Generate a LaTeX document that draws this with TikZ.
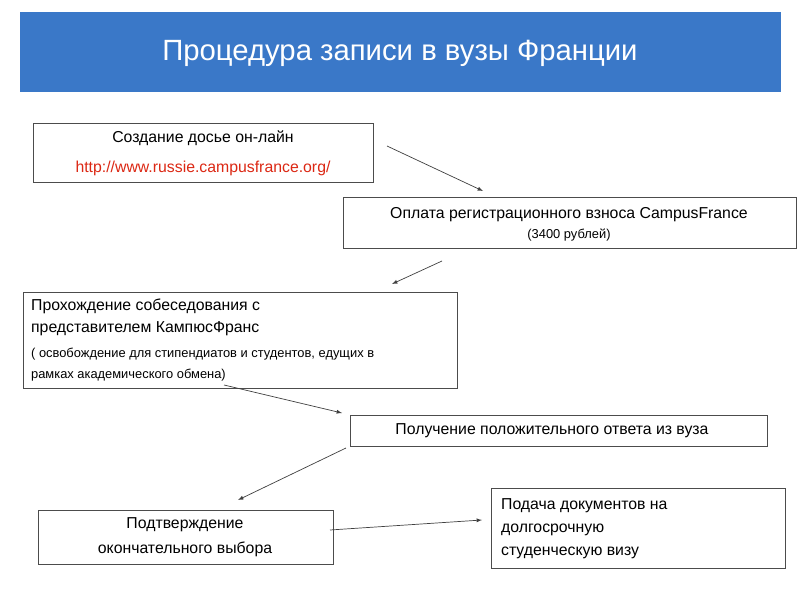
\documentclass[tikz,border=0pt]{standalone}
\usepackage{fontspec}
\setmainfont{Liberation Sans}
\begin{document}
\begin{tikzpicture}[x=0.03cm,y=-0.03cm,
  box/.style={draw=black!70,line width=0.6pt,fill=white},
  txt/.style={font=\fontsize{13.5pt}{16pt}\selectfont},
  small/.style={font=\fontsize{11pt}{13pt}\selectfont},
  arr/.style={draw=black!75,line width=0.6pt,-latex}]
\useasboundingbox (0,0) rectangle (800,600);
\fill[fill={rgb,255:red,58;green,120;blue,200}] (20,12) rectangle (781,92);
\node[text=white,font=\fontsize{25pt}{30pt}\selectfont] (title) at (400,53) {Процедура записи в вузы Франции};
\draw[box] (33,123) rectangle (373,182);
\node[txt] (b1a) at (203,138) {Создание досье он-лайн};
\node[txt,text={rgb,255:red,220;green,40;blue,20}] (b1b) at (203,168) {http://www.russie.campusfrance.org/};
\draw[box] (343,197) rectangle (796,248);
\node[txt] (b2a) at (569,215) {Оплата регистрационного взноса CampusFrance};
\node[small] (b2b) at (569,235) {(3400 рублей)};
\draw[box] (23,292) rectangle (457,388);
\node[txt,anchor=west] (b3a) at (27,306) {Прохождение собеседования с};
\node[txt,anchor=west] (b3b) at (27,329) {представителем КампюсФранс};
\node[small,anchor=west] (b3c) at (27,354) {( освобождение для стипендиатов и студентов, едущих в};
\node[small,anchor=west] (b3d) at (27,375) {рамках академического обмена)};
\draw[box] (350,415) rectangle (767,446);
\node[txt] (b4) at (552,431) {Получение положительного ответа из вуза};
\draw[box] (38,510) rectangle (333,564);
\node[txt] (b5a) at (185,525) {Подтверждение};
\node[txt] (b5b) at (185,549) {окончательного выбора};
\draw[box] (491,488) rectangle (785,568);
\node[txt,anchor=west] (b6a) at (497,506) {Подача документов на};
\node[txt,anchor=west] (b6b) at (497,530) {долгосрочную};
\node[txt,anchor=west] (b6c) at (497,553) {студенческую визу};
\coordinate (a1s) at (387,146); \coordinate (a1e) at (483,191);
\coordinate (a2s) at (442,261); \coordinate (a2e) at (392,284);
\coordinate (a3s) at (224,385); \coordinate (a3e) at (342,413);
\coordinate (a4s) at (346,448); \coordinate (a4e) at (238,500);
\coordinate (a5s) at (330,530); \coordinate (a5e) at (482,520);
\draw[arr] (a1s) -- (a1e);
\draw[arr] (a2s) -- (a2e);
\draw[arr] (a3s) -- (a3e);
\draw[arr] (a4s) -- (a4e);
\draw[arr] (a5s) -- (a5e);
\end{tikzpicture}
\end{document}
